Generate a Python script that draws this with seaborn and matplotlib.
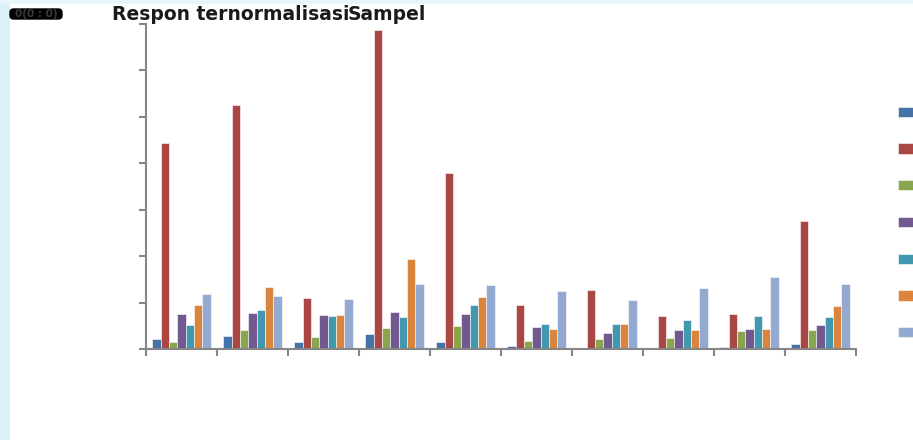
import matplotlib
matplotlib.use("Agg")
import matplotlib.pyplot as plt
from matplotlib.patches import Rectangle, Patch, FancyBboxPatch
import seaborn as sns
import pandas as pd

# Samples (groups along the x axis) and the seven response series
samples = [f"S{i}" for i in range(1, 11)]
series = ["Seri 1", "Seri 2", "Seri 3", "Seri 4", "Seri 5", "Seri 6", "Seri 7"]

seri_1 = [0.011, 0.014, 0.008, 0.016, 0.008, 0.003, 0.0015, 0.0015, 0.002, 0.005]
seri_2 = [0.222, 0.263, 0.055, 0.343, 0.190, 0.047, 0.064, 0.036, 0.038, 0.138]
seri_3 = [0.008, 0.021, 0.013, 0.023, 0.025, 0.009, 0.011, 0.012, 0.0195, 0.020]
seri_4 = [0.038, 0.039, 0.037, 0.040, 0.038, 0.024, 0.017, 0.021, 0.022, 0.026]
seri_5 = [0.026, 0.042, 0.036, 0.035, 0.047, 0.027, 0.027, 0.031, 0.036, 0.034]
seri_6 = [0.047, 0.067, 0.037, 0.097, 0.056, 0.022, 0.027, 0.020, 0.022, 0.046]
seri_7 = [0.059, 0.057, 0.054, 0.070, 0.069, 0.062, 0.053, 0.066, 0.078, 0.070]

colors = ["#4572A7", "#AA4643", "#89A54E", "#71588F", "#4198AF", "#DB843D", "#93A9CF"]

y_ticks = [0.0, 0.05, 0.10, 0.15, 0.20, 0.25, 0.30, 0.35]

values = [seri_1, seri_2, seri_3, seri_4, seri_5, seri_6, seri_7]
rows = []
for name, vals in zip(series, values):
    for s, v in zip(samples, vals):
        rows.append({"Sampel": s, "Seri": name, "Respon": v})
df = pd.DataFrame(rows)

sns.set_style("white")
fig = plt.figure(figsize=(9.13, 4.4), dpi=100)
fig.patch.set_facecolor("white")

W, H = 913, 440

def fx(px):
    return px / W

def fy(py):
    return 1 - py / H

# pale slide background showing at the left and top edges
fig.patches.append(Rectangle((0, 0), fx(9.5), 1, transform=fig.transFigure,
                             facecolor="#DDF2F6", edgecolor="none", zorder=0))
fig.patches.append(Rectangle((0, fy(4)), 1, 4 / H, transform=fig.transFigure,
                             facecolor="#E6F6F9", edgecolor="none", zorder=0))

ax = fig.add_axes([fx(146), fy(349), (856 - 146) / W, (349 - 24) / H])
sns.barplot(data=df, x="Sampel", y="Respon", hue="Seri", palette=colors,
            width=0.82, ax=ax, legend=False, edgecolor="white", linewidth=0.4,
            saturation=1)

ax.set_ylim(0, 0.35)
ax.set_xlim(-0.5, len(samples) - 0.5)
ax.set_yticks(y_ticks)
ax.set_yticklabels([])
ax.set_xticks([i - 0.5 for i in range(len(samples) + 1)])
ax.set_xticklabels([])
ax.set_xlabel("")
ax.set_ylabel("")
ax.tick_params(axis="both", direction="out", length=5, width=1.5, color="#868686",
               bottom=True, left=True)
for side in ("top", "right"):
    ax.spines[side].set_visible(False)
for side in ("left", "bottom"):
    ax.spines[side].set_color("#868686")
    ax.spines[side].set_linewidth(1.5)

# title in two pieces, as laid out on the slide
fig.text(fx(112), fy(20.5), "Respon ternormalisasi", fontsize=13.5,
         fontweight="bold", family="DejaVu Sans", color="#1A1A1A", va="baseline")
fig.text(fx(348), fy(20.5), "Sampel", fontsize=13.5,
         fontweight="bold", family="DejaVu Sans", color="#1A1A1A", va="baseline")

# axis unit tag in the top-left corner
fig.patches.append(FancyBboxPatch((fx(10), fy(19)), fx(52), 10 / H,
                                  boxstyle="round,pad=0,rounding_size=0.004",
                                  transform=fig.transFigure, mutation_aspect=2.1,
                                  facecolor="black", edgecolor="black", zorder=2))
fig.text(fx(36), fy(14), "0(0 : 0)", fontsize=7.5, fontweight="bold",
         color="#3A3A3A", ha="center", va="center", zorder=3)

handles = [Patch(facecolor=c, edgecolor="white", linewidth=0.4) for c in colors]
fig.legend(handles, [""] * len(series), loc="upper left",
           bbox_to_anchor=(fx(898), fy(106)), frameon=False,
           fontsize=9, handlelength=2.0, handleheight=0.9,
           labelspacing=1.9, borderpad=0, borderaxespad=0, handletextpad=0.6)

fig.savefig("out.png", dpi=100, facecolor=fig.get_facecolor())
